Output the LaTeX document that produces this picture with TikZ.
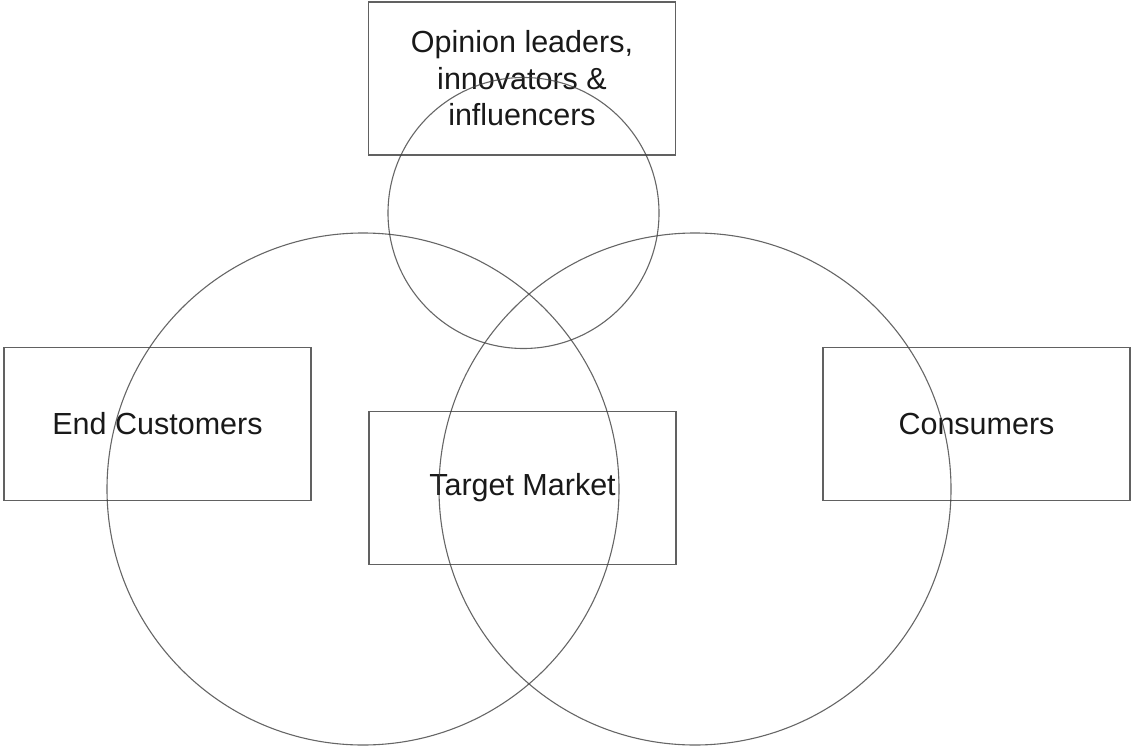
\documentclass[tikz,border=0pt]{standalone}
\usepackage{fontspec}
\setmainfont{Liberation Sans}
\begin{document}
\begin{tikzpicture}[x=1pt,y=-1pt,
  labelbox/.style={draw=black!62,line width=1.6pt,minimum width=307pt,minimum height=153pt,
    inner sep=0pt,align=center,font=\fontsize{30.5}{36.5}\selectfont,text=black!90},
  ring/.style={draw=black!75,line width=1.1pt,draw opacity=0.8}]
\useasboundingbox (0,0) rectangle (1131,746);
% boxes with their labels
\node[labelbox] (lead) at (522,78.5) {Opinion leaders,\\innovators \&\\influencers};
\node[labelbox] (endc) at (157.5,424) {End Customers};
\node[labelbox] (cons) at (976.5,424) {Consumers};
\node[labelbox] (target) at (522.5,488) {Target Market};
% overlapping circles
\draw[ring] (523.5,213) circle[radius=135.5];
\draw[ring] (363,489) circle[radius=256];
\draw[ring] (695,489) circle[radius=256];
\end{tikzpicture}
\end{document}
